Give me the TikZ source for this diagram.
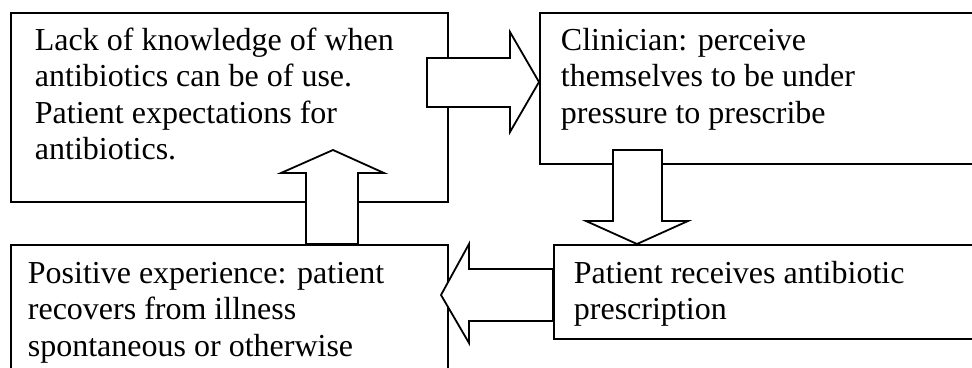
\documentclass[tikz,border=0pt]{standalone}
\usepackage{fontspec}
\setmainfont{Liberation Serif}
\begin{document}
\begin{tikzpicture}[x=1pt,y=-1pt,line width=1.8pt,
  box/.style={draw,inner sep=0,anchor=north west},
  txt/.style={anchor=base west,inner sep=0,align=left,font=\fontsize{32}{36.5}\selectfont},
  barrow/.style={draw,fill=white,line join=miter}]
\useasboundingbox (0,0) rectangle (972,367);
\clip (0,0) rectangle (972,367);
% boxes
\node[box,minimum width=437,minimum height=189] (A) at (10,12) {};
\node[box,minimum width=445,minimum height=151] (B) at (539,12) {};
\node[box,minimum width=430,minimum height=94] (C) at (553,244) {};
\node[box,minimum width=437,minimum height=140] (D) at (10,244) {};
% block arrows
\draw[barrow] (427,58)--(510,58)--(510,32)--(539,82)--(510,132)--(510,107)--(427,107)--cycle;
\draw[barrow] (613,150)--(662,150)--(662,221)--(688,221)--(637,244)--(586,221)--(613,221)--cycle;
\draw[barrow] (553,269)--(469,269)--(469,244)--(441,295)--(469,343)--(469,321)--(553,321)--cycle;
\draw[barrow] (306,244)--(306,173)--(281,173)--(333,150)--(384,173)--(358,173)--(358,244)--cycle;
% texts (anchored at the baseline of their last line)
\node[txt] (tA) at (34,159.5) {Lack of knowledge of when\\antibiotics can be of use.\\Patient expectations for\\antibiotics.};
\node[txt] (tB) at (560,123) {Clinician: perceive\\themselves to be under\\pressure to prescribe};
\node[txt] (tC) at (573,319.5) {Patient receives antibiotic\\prescription};
\node[txt] (tD) at (27,356) {Positive experience: patient\\recovers from illness\\spontaneous or otherwise};
\end{tikzpicture}
\end{document}
